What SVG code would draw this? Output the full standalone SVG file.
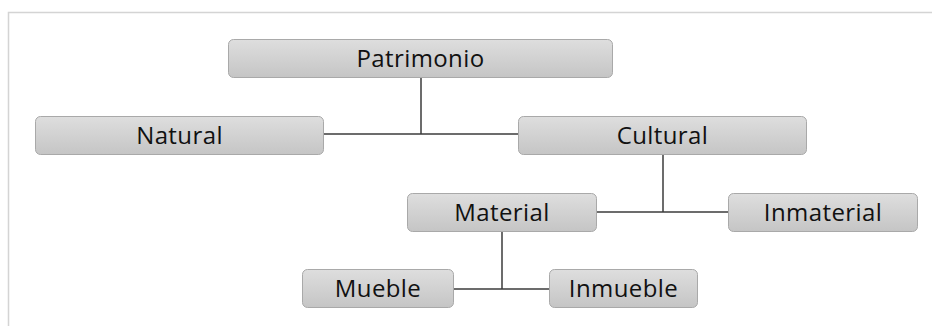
<svg xmlns="http://www.w3.org/2000/svg" width="932" height="326" viewBox="0 0 932 326">
  <defs>
    <linearGradient id="boxFill" x1="0" y1="0" x2="0" y2="1">
      <stop offset="0" stop-color="#dedede"/>
      <stop offset="1" stop-color="#c5c5c5"/>
    </linearGradient>
  </defs>
  <style>
    .box { fill: url(#boxFill); stroke: #a9a9a9; stroke-width: 1; }
    .label { font-family: "Open Sans", "Liberation Sans", sans-serif; font-size: 24px; letter-spacing: 0.4px; fill: #111111; text-anchor: middle; }
    .link { fill: none; stroke: #3c3c3c; stroke-width: 1.5; }
    .frame { fill: none; stroke: #d4d4d4; stroke-width: 1.5; }
  </style>
  <rect width="932" height="326" fill="#ffffff"/>
  <!-- outer frame: top and left edges -->
  <path class="frame" d="M8.5 326 V12.5 H932"/>

  <g id="connectors">
    <path class="link" d="M421 78 V134 M324 134 H518"/>
    <path class="link" d="M663 155 V212 M597 212 H728"/>
    <path class="link" d="M502 231 V289 M454 289 H549"/>
  </g>

  <g id="patrimonio">
    <rect class="box" x="228.5" y="39.5" width="384" height="38" rx="5"/>
    <text class="label" x="420.5" y="67">Patrimonio</text>
  </g>
  <g id="natural">
    <rect class="box" x="35.5" y="116.5" width="288" height="38" rx="5"/>
    <text class="label" x="179.5" y="144">Natural</text>
  </g>
  <g id="cultural">
    <rect class="box" x="518.5" y="116.5" width="288" height="38" rx="5"/>
    <text class="label" x="662.5" y="144">Cultural</text>
  </g>
  <g id="material">
    <rect class="box" x="407.5" y="193.5" width="189" height="38" rx="5"/>
    <text class="label" x="502" y="221">Material</text>
  </g>
  <g id="inmaterial">
    <rect class="box" x="728.5" y="193.5" width="189" height="38" rx="5"/>
    <text class="label" x="823" y="221">Inmaterial</text>
  </g>
  <g id="mueble">
    <rect class="box" x="302.5" y="269.5" width="151" height="38" rx="5"/>
    <text class="label" x="378" y="297">Mueble</text>
  </g>
  <g id="inmueble">
    <rect class="box" x="549.5" y="269.5" width="148" height="38" rx="5"/>
    <text class="label" x="623.5" y="297">Inmueble</text>
  </g>
</svg>
